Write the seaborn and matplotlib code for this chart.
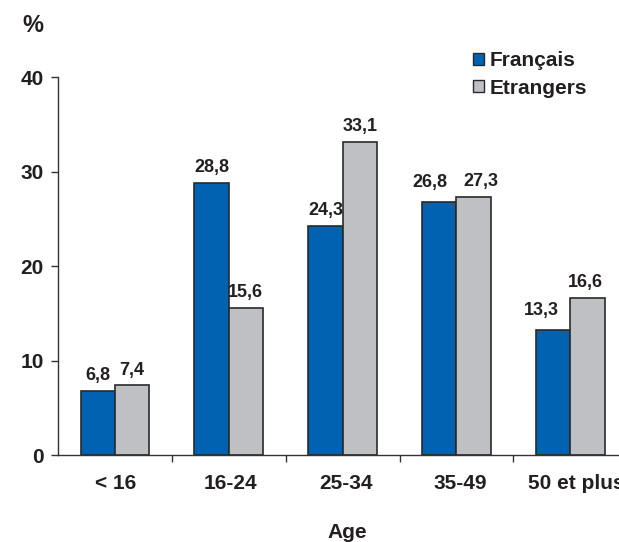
import pandas as pd
import seaborn as sns
import matplotlib.pyplot as plt
from matplotlib.patches import Patch
from matplotlib.transforms import ScaledTranslation

# Chart data
ages = ['< 16', '16-24', '25-34', '35-49', '50 et plus']
francais = [6.8, 28.8, 24.3, 26.8, 13.3]
etrangers = [7.4, 15.6, 33.1, 27.3, 16.6]
series = ['Français', 'Etrangers']
colors = ['#0062b0', '#bfc0c4']

# small nudges (points) to keep neighbouring labels apart
label_dx = [[0, 0, 0, -7, -8.5], [0, 0, 0, 5, -1.5]]
label_dy = [[0, 0, 0, 2.5, 2.5], [0, 0, 0, 0, 0]]
# x tick label nudges (pixels)
tick_dx = [1, 2, 3, 3.5, 6]

df = pd.DataFrame({
    'age': ages * 2,
    'value': francais + etrangers,
    'groupe': [series[0]] * len(ages) + [series[1]] * len(ages),
})

sns.set_style('ticks')
plt.rcParams['font.family'] = ['Liberation Sans', 'DejaVu Sans']
plt.rcParams['font.weight'] = 'bold'
txt = '#231f20'

fig = plt.figure(figsize=(6.19, 5.42), dpi=100)
ax = fig.add_axes([0.0934, 0.1596, 0.920, 0.6983])

sns.barplot(data=df, x='age', y='value', hue='groupe', order=ages,
            hue_order=series, palette=colors, width=0.6, saturation=1,
            edgecolor='#2a2a2a', linewidth=1.2, legend=False, ax=ax)

# value labels with comma decimals
for k, (cont, vals) in enumerate(zip(ax.containers, [francais, etrangers])):
    for i, (bar, v) in enumerate(zip(cont, vals)):
        ax.annotate(f'{v:.1f}'.replace('.', ','),
                    xy=(bar.get_x() + bar.get_width() / 2, bar.get_height()),
                    xytext=(label_dx[k][i], 5 + label_dy[k][i]), textcoords='offset points',
                    ha='center', va='bottom', fontsize=13, fontweight='bold', color=txt)

ax.set_xlim(-0.5, 4.5)
ax.set_ylim(0, 40)
ax.set_yticks([0, 10, 20, 30, 40])
ax.set_xlabel('')
ax.set_ylabel('')

# ticks between categories only
ax.set_xticks([0.5, 1.5, 2.5, 3.5], minor=True)
ax.tick_params(axis='x', which='major', length=0, pad=13, labelsize=15, labelcolor=txt)
ax.tick_params(axis='x', which='minor', length=5, width=1, color='#333333')
ax.tick_params(axis='y', length=5, width=1, color='#333333', pad=5, labelsize=15, labelcolor=txt)
for lab in ax.get_xticklabels() + ax.get_yticklabels():
    lab.set_fontweight('bold')
for lab, dx in zip(ax.get_xticklabels(), tick_dx):
    lab.set_transform(lab.get_transform() + ScaledTranslation(dx / 100, 0, fig.dpi_scale_trans))

sns.despine(ax=ax)
for s in ['left', 'bottom']:
    ax.spines[s].set_color('#333333')
    ax.spines[s].set_linewidth(1)

fig.text(32.5 / 619, 1 - 26 / 542, '%', ha='center', va='center',
         fontsize=17, fontweight='bold', color=txt)
fig.text(347 / 619, 1 - 532 / 542, 'Age', ha='center', va='center',
         fontsize=15, fontweight='bold', color=txt)

handles = [Patch(facecolor=c, edgecolor='#2a2a2a', linewidth=1) for c in colors]
fig.legend(handles, series, loc='upper left', bbox_to_anchor=(473 / 619, 1 - 51 / 542),
           frameon=False, borderpad=0, borderaxespad=0, handlelength=0.52,
           handleheight=0.52, handletextpad=0.3, labelspacing=0.42,
           prop={'size': 15, 'weight': 'bold'}, labelcolor=txt)

fig.savefig('out.png', dpi=100)
